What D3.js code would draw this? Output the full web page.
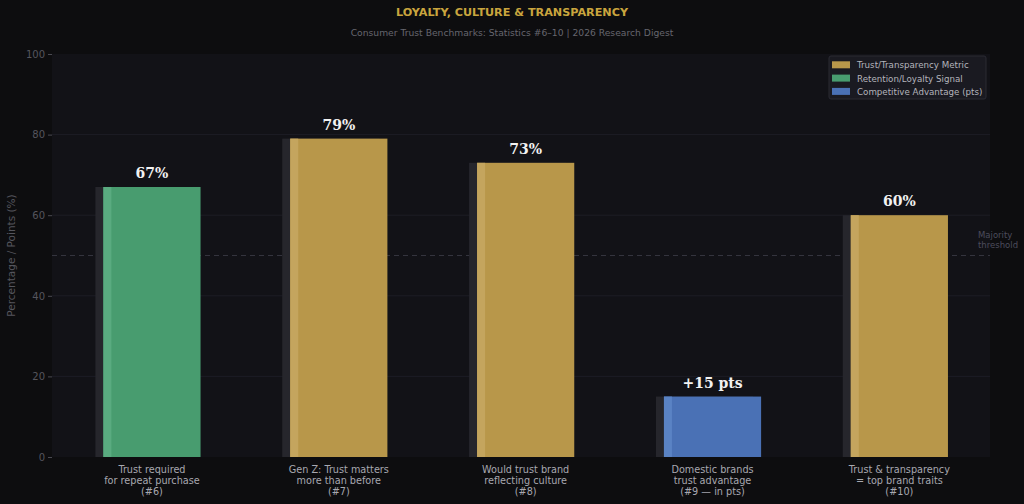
<!DOCTYPE html>
<html lang="en">
<head>
<meta charset="UTF-8">
<title>Loyalty, Culture & Transparency</title>
<script src="https://d3js.org/d3.v7.min.js"></script>
<style>
  html, body { margin: 0; padding: 0; background: #0d0d0f; }
  svg { display: block; font-family: "DejaVu Sans", sans-serif; }
</style>
</head>
<body>
<div id="chart"></div>
<script>
// data
const labels = [
  ["Trust required", "for repeat purchase", "(#6)"],
  ["Gen Z: Trust matters", "more than before", "(#7)"],
  ["Would trust brand", "reflecting culture", "(#8)"],
  ["Domestic brands", "trust advantage", "(#9 \u2014 in pts)"],
  ["Trust & transparency", "= top brand traits", "(#10)"]
];
const values = [67, 79, 73, 15, 60];
const valueText = ["67%", "79%", "73%", "+15 pts", "60%"];
const groups = ["retention", "trust", "trust", "advantage", "trust"];
const yTicks = [0, 20, 40, 60, 80, 100];
const legendItems = [
  { key: "trust", name: "Trust/Transparency Metric" },
  { key: "retention", name: "Retention/Loyalty Signal" },
  { key: "advantage", name: "Competitive Advantage (pts)" }
];

const colors = { trust: "#b8974a", retention: "#489c6f", advantage: "#4a71b5" };
const highlight = { trust: "#c4a55e", retention: "#5aab80", advantage: "#5a83c4" };

const W = 1024, H = 504;
const margin = { top: 54, right: 34, bottom: 47, left: 52 };
const w = W - margin.left - margin.right;
const h = H - margin.top - margin.bottom;

const svg = d3.select("#chart").append("svg")
  .attr("width", W).attr("height", H);

svg.append("rect").attr("width", W).attr("height", H).attr("fill", "#0d0d0f");

const g = svg.append("g")
  .attr("transform", "translate(" + margin.left + "," + margin.top + ")");

g.append("rect").attr("width", w).attr("height", h).attr("fill", "#121217");

const x = d3.scaleLinear().domain([-0.535, 4.485]).range([0, w]);
const y = d3.scaleLinear().domain([0, 100]).range([h, 0]);
const barW = x(0.52) - x(0);
const shadowOff = 8;

// grid
g.append("g").selectAll("line")
  .data(yTicks.filter(t => t > 0 && t < 100))
  .enter().append("line")
  .attr("x1", 0).attr("x2", w)
  .attr("y1", d => y(d)).attr("y2", d => y(d))
  .attr("stroke", "#1d1d25").attr("stroke-width", 1);

// majority threshold
g.append("line")
  .attr("x1", 0).attr("x2", w)
  .attr("y1", y(50)).attr("y2", y(50))
  .attr("stroke", "#34343e").attr("stroke-width", 1)
  .attr("stroke-dasharray", "5,4");

g.append("text")
  .attr("x", w - 12).attr("y", y(50) - 18)
  .attr("fill", "#4c4c5c").attr("font-size", 8.5)
  .selectAll("tspan").data(["Majority", "threshold"]).enter().append("tspan")
  .attr("x", w - 12).attr("dy", (d, i) => i ? 10 : 0)
  .text(d => d);

// y axis
const yAxis = d3.axisLeft(y).tickValues(yTicks).tickSize(4).tickPadding(3);
const ya = g.append("g").call(yAxis);
ya.select(".domain").remove();
ya.selectAll("line").attr("stroke", "#4a4a52");
ya.selectAll("text").attr("fill", "#55555d").attr("font-size", 10)
  .attr("font-family", "DejaVu Sans, sans-serif");

svg.append("text")
  .attr("transform", "translate(15," + (margin.top + h / 2) + ") rotate(-90)")
  .attr("text-anchor", "middle")
  .attr("fill", "#55555d").attr("font-size", 10.5)
  .text("Percentage / Points (%)");

// bars
const bars = g.append("g").selectAll("g")
  .data(values).enter().append("g");

bars.append("rect")
  .attr("x", (d, i) => x(i) - barW / 2 - shadowOff)
  .attr("y", d => y(d))
  .attr("width", barW)
  .attr("height", d => h - y(d))
  .attr("fill", "#26262c");

bars.append("rect")
  .attr("x", (d, i) => x(i) - barW / 2)
  .attr("y", d => y(d))
  .attr("width", barW)
  .attr("height", d => h - y(d))
  .attr("fill", (d, i) => colors[groups[i]]);

bars.append("rect")
  .attr("x", (d, i) => x(i) - barW / 2)
  .attr("y", d => y(d))
  .attr("width", 8)
  .attr("height", d => h - y(d))
  .attr("fill", (d, i) => highlight[groups[i]]);

bars.append("text")
  .attr("x", (d, i) => x(i))
  .attr("y", d => y(d) - 9)
  .attr("text-anchor", "middle")
  .attr("fill", "#f2f2f2")
  .attr("font-family", "DejaVu Serif, serif")
  .attr("font-weight", "bold")
  .attr("font-size", 14)
  .text((d, i) => valueText[i]);

// x labels
const xl = g.append("g").selectAll("text")
  .data(labels).enter().append("text")
  .attr("text-anchor", "middle")
  .attr("fill", "#a8a8b0")
  .attr("font-size", 9.7);

xl.selectAll("tspan").data((d, i) => d.map(s => ({ s: s, i: i })))
  .enter().append("tspan")
  .attr("x", d => x(d.i))
  .attr("y", (d, j) => h + 15.5 + j * 11)
  .text(d => d.s);

// legend
const lg = svg.append("g").attr("transform", "translate(829,56)");
lg.append("rect")
  .attr("width", 157).attr("height", 43).attr("rx", 2)
  .attr("fill", "#1a1a21").attr("stroke", "#2a2a33");
const li = lg.selectAll("g.item").data(legendItems).enter().append("g")
  .attr("transform", (d, i) => "translate(3," + (5.3 + i * 13.3) + ")");
li.append("rect").attr("width", 18).attr("height", 7)
  .attr("fill", d => colors[d.key]);
li.append("text").attr("x", 25).attr("y", 7)
  .attr("fill", "#b4b4bc").attr("font-size", 8.7)
  .text(d => d.name);

// titles
svg.append("text")
  .attr("x", 512).attr("y", 16)
  .attr("text-anchor", "middle")
  .attr("fill", "#c9a53e").attr("font-weight", "bold").attr("font-size", 11.2)
  .text("LOYALTY, CULTURE & TRANSPARENCY");

svg.append("text")
  .attr("x", 512).attr("y", 35.5)
  .attr("text-anchor", "middle")
  .attr("fill", "#66666e").attr("font-size", 9.2)
  .text("Consumer Trust Benchmarks: Statistics #6\u201310 | 2026 Research Digest");
</script>
</body>
</html>
